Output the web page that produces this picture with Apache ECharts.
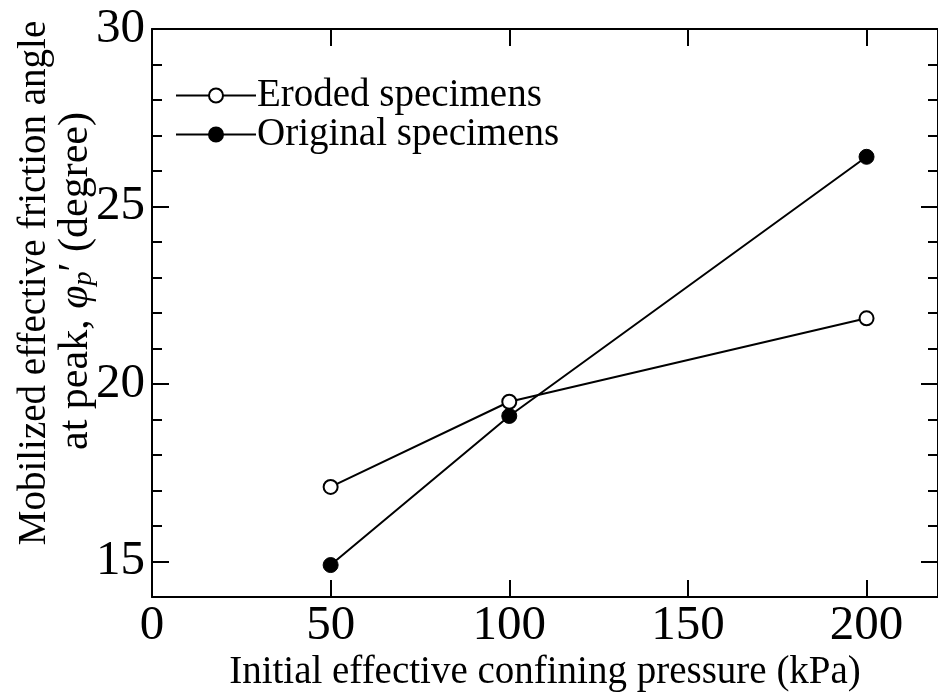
<!DOCTYPE html>
<html>
<head>
<meta charset="utf-8">
<script src="https://cdn.jsdelivr.net/npm/echarts@6/dist/echarts.min.js"></script>
<style>html,body{margin:0;padding:0;background:#fff;}#c{width:938px;height:696px;}</style>
</head>
<body>
<div id="c"></div>
<script>
const pressures = [50, 100, 200];
const erodedPhi = [17.1, 19.5, 21.85];
const originalPhi = [14.9, 19.1, 26.4];
const seriesNames = ['Eroded specimens', 'Original specimens'];
const xTitle = 'Initial effective confining pressure (kPa)';
const yTitle1 = 'Mobilized effective friction angle';

const FONT = '"Liberation Serif", "Times New Roman", serif';
const chart = echarts.init(document.getElementById('c'), null, {renderer: 'canvas'});

const LINE = {color: '#000', width: 2};
const majorTick = {show: true, inside: true, length: 17, lineStyle: LINE};
const minorTickStyle = {show: true, inside: true, length: 10, lineStyle: LINE};

chart.setOption({
  animation: false,
  backgroundColor: '#fff',
  grid: [
    {left: 152, top: 29, bottom: 99, right: -8, containLabel: false},
    // helper grid for the major y ticks (15..30)
    {left: 152, top: 29, bottom: 134.5, right: -8, containLabel: false}
  ],
  xAxis: [
    {
      gridIndex: 0, type: 'value', position: 'bottom', min: 0, max: 220, interval: 50,
      axisLine: {show: true, onZero: false, lineStyle: LINE}, splitLine: {show: false}, axisTick: majorTick,
      axisLabel: {show: true, fontFamily: FONT, fontSize: 49, color: '#000', margin: 5, showMaxLabel: false,
        formatter: v => (v % 50 === 0 ? String(v) : '')}
    },
    {
      gridIndex: 0, type: 'value', position: 'top', min: 0, max: 220, interval: 50,
      axisLine: {show: true, onZero: false, lineStyle: LINE}, splitLine: {show: false}, axisTick: majorTick,
      axisLabel: {show: false}
    },
    {
      gridIndex: 1, type: 'value', position: 'bottom', min: 0, max: 220, show: false
    }
  ],
  yAxis: [
    {
      gridIndex: 0, type: 'value', position: 'left', min: 14, max: 30, interval: 1,
      axisLine: {show: true, onZero: false, lineStyle: LINE}, splitLine: {show: false}, axisTick: minorTickStyle,
      axisLabel: {show: false}
    },
    {
      gridIndex: 0, type: 'value', position: 'right', min: 14, max: 30, interval: 1,
      axisLine: {show: true, onZero: false, lineStyle: LINE}, splitLine: {show: false}, axisTick: minorTickStyle,
      axisLabel: {show: false}
    },
    {
      gridIndex: 1, type: 'value', position: 'left', min: 15, max: 30, interval: 5,
      axisLine: {show: false}, splitLine: {show: false}, axisTick: majorTick,
      axisLabel: {show: true, fontFamily: FONT, fontSize: 49, color: '#000', margin: 7}
    },
    {
      gridIndex: 1, type: 'value', position: 'right', min: 15, max: 30, interval: 5,
      axisLine: {show: false}, splitLine: {show: false}, axisTick: majorTick,
      axisLabel: {show: false}
    }
  ],
  legend: {
    show: true, orient: 'vertical', left: 175, top: 76, padding: 0, itemWidth: 80, itemHeight: 17.5, itemGap: 0,
    textStyle: {fontFamily: FONT, fontSize: 39, color: '#000', padding: [0, 0, 0, -4]},
    data: seriesNames
  },
  series: [
    {
      name: seriesNames[0], type: 'line', xAxisIndex: 0, yAxisIndex: 0,
      data: pressures.map((p, i) => [p, erodedPhi[i]]),
      symbol: 'circle', symbolSize: 14,
      lineStyle: {color: '#000', width: 2},
      itemStyle: {color: '#fff', borderColor: '#000', borderWidth: 2}
    },
    {
      name: seriesNames[1], type: 'line', xAxisIndex: 0, yAxisIndex: 0,
      data: pressures.map((p, i) => [p, originalPhi[i]]),
      symbol: 'circle', symbolSize: 15,
      lineStyle: {color: '#000', width: 2},
      itemStyle: {color: '#000', borderColor: '#000', borderWidth: 1}
    }
  ],
  graphic: [
    {type: 'text', x: 545, y: 673,
      style: {text: xTitle, font: '39px ' + FONT, fill: '#000', align: 'center', verticalAlign: 'middle'}},
    {type: 'text', x: 35, y: 283, rotation: Math.PI / 2,
      style: {text: yTitle1, font: '39px ' + FONT, fill: '#000', align: 'center', verticalAlign: 'middle'}},
    {type: 'text', x: 76, y: 281, rotation: Math.PI / 2,
      style: {
        text: '{n|at peak, }{i|φ}{s|p}{n|′ (degree)}',
        align: 'center', verticalAlign: 'middle',
        rich: {
          n: {fontFamily: FONT, fontSize: 42, color: '#000'},
          i: {fontFamily: FONT, fontSize: 42, fontStyle: 'italic', color: '#000'},
          s: {fontFamily: FONT, fontSize: 28, fontStyle: 'italic', color: '#000', verticalAlign: 'bottom', padding: [16, 0, 0, 0]}
        }
      }}
  ]
});
</script>
</body>
</html>
